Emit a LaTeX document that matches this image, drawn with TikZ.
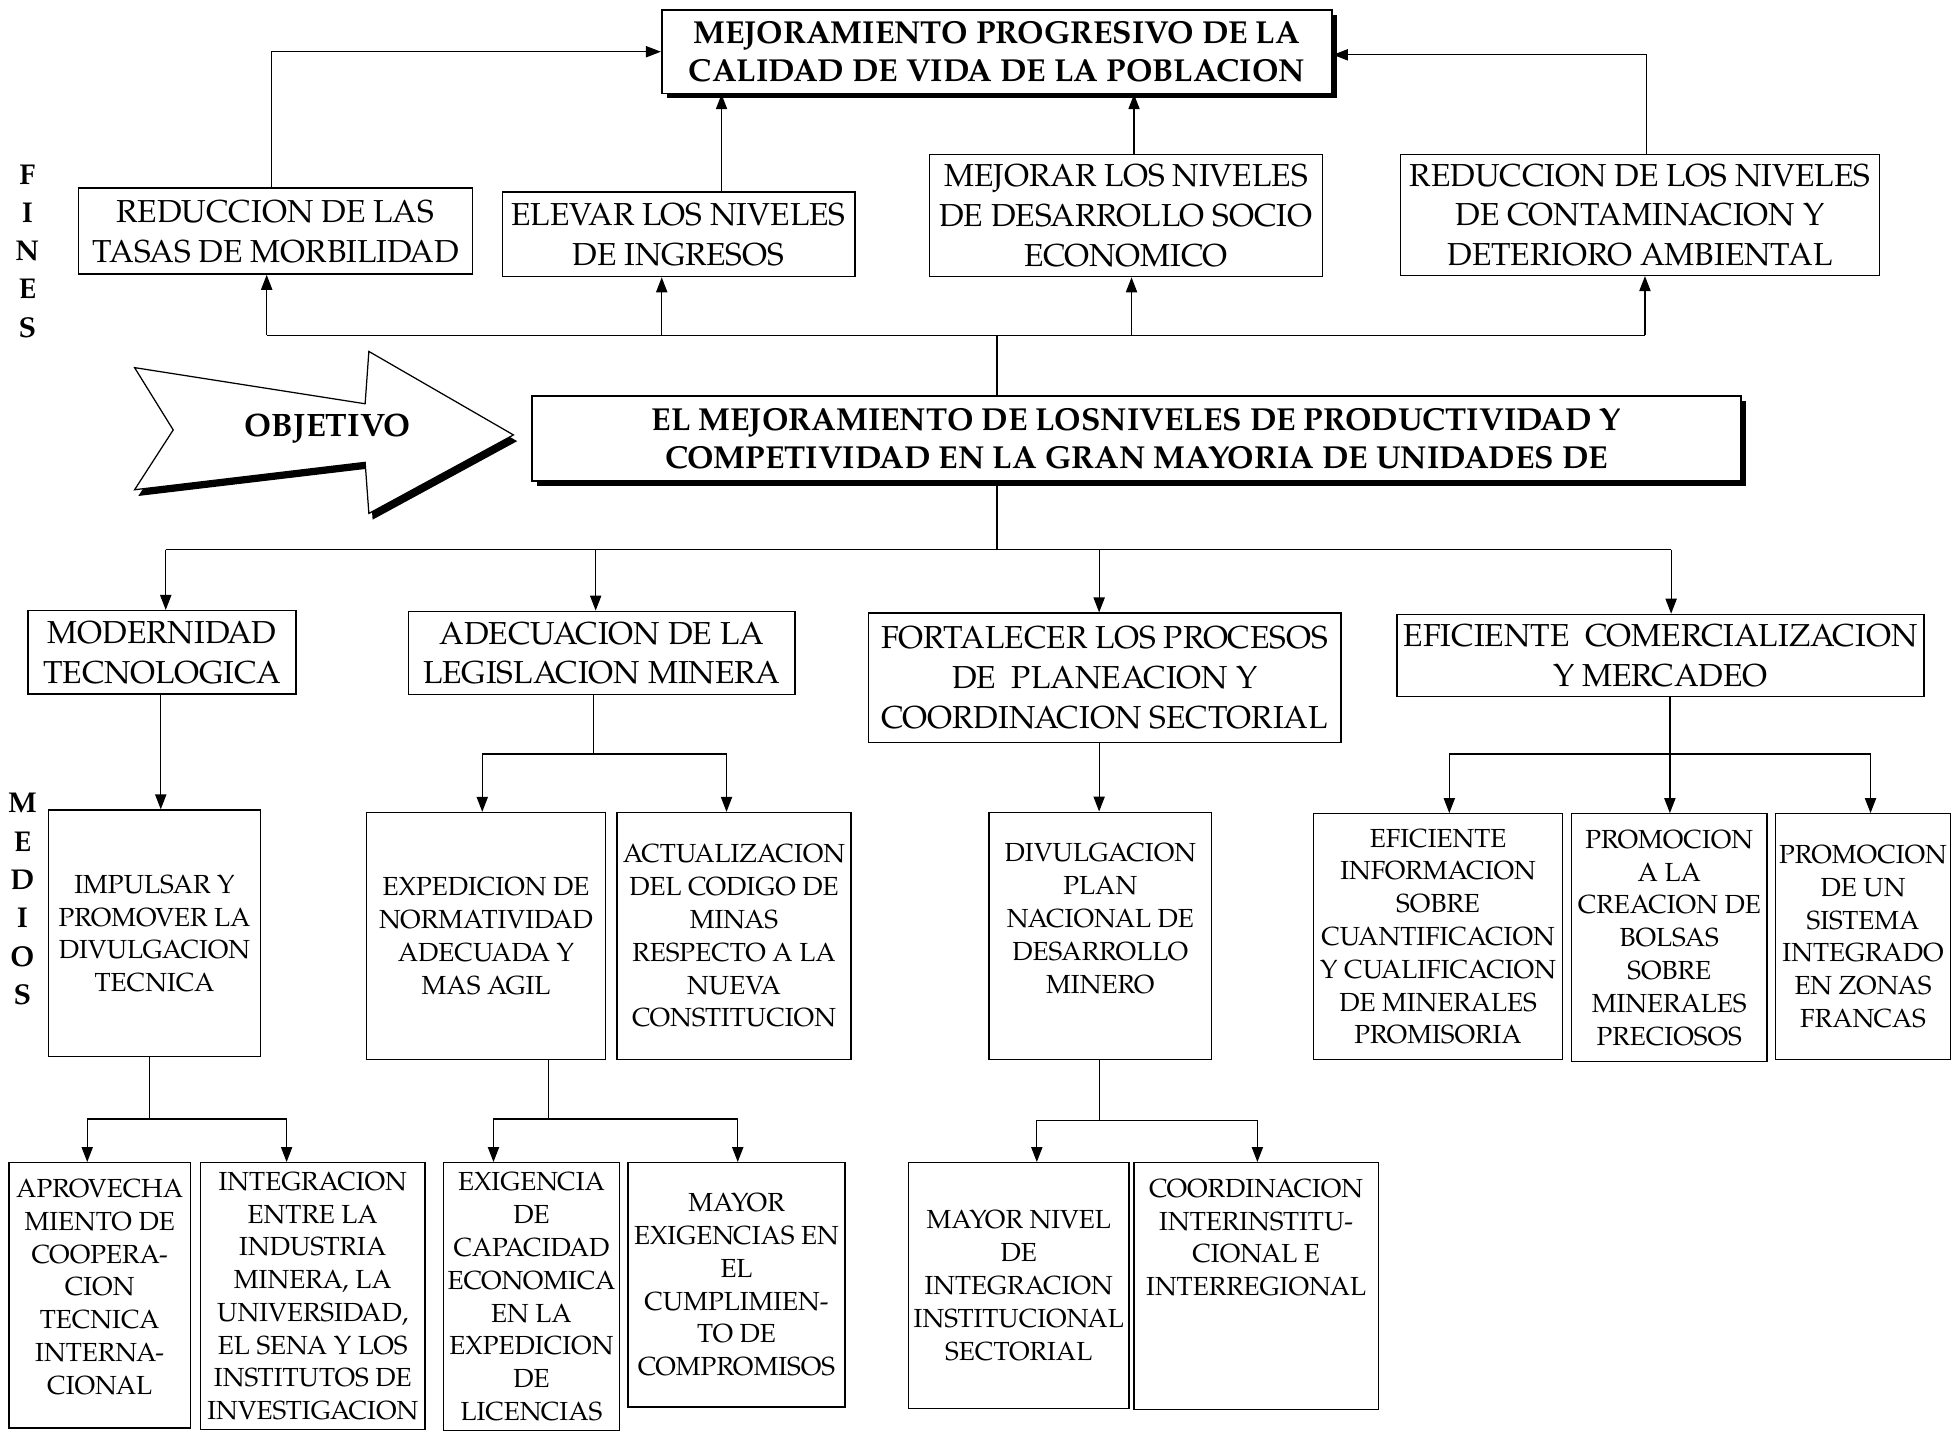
\documentclass[tikz,border=0pt]{standalone}
\usepackage{fontspec}
\setmainfont{TeX Gyre Pagella}
\usetikzlibrary{arrows.meta,shadows}

\tikzset{
  box/.style={draw, line width=1.1pt, fill=white, align=center, inner sep=1pt},
  bigtxt/.style={font=\fontsize{25.5}{32}\selectfont},
  smalltxt/.style={font=\fontsize{21}{26.3}\selectfont},
  headbox/.style={box, line width=1.3pt, font=\bfseries\fontsize{25.5}{31}\selectfont,
     drop shadow={shadow xshift=4pt, shadow yshift=-4pt, opacity=1, fill=black}},
  arr/.style={-{Triangle[length=12pt,width=9pt]}, line width=1pt},
  link/.style={line width=1pt},
  sidelabel/.style={align=center, font=\bfseries\fontsize{23}{30.7}\selectfont}
}

\begin{document}
\begin{tikzpicture}[x=1pt,y=-1pt]
\useasboundingbox (0,0) rectangle (1568,1148);
\fill[white] (0,0) rectangle (1568,1148);

% ---------- goal ----------
\node[headbox, minimum width=538pt, minimum height=67pt] (top) at (800,41.5)
  {MEJORAMIENTO PROGRESIVO DE LA\\CALIDAD DE VIDA DE LA POBLACION};

% ---------- ends (fines) ----------
\node[sidelabel] (fines) at (22,201.5) {F\\I\\N\\E\\S};
\node[box,bigtxt,minimum width=316pt,minimum height=69pt] (f1) at (221,185.5)
  {REDUCCION DE LAS\\TASAS DE MORBILIDAD};
\node[box,bigtxt,minimum width=283pt,minimum height=68pt] (f2) at (544.5,188)
  {ELEVAR LOS NIVELES\\DE INGRESOS};
\node[box,bigtxt,minimum width=315pt,minimum height=98pt] (f3) at (903.5,173)
  {MEJORAR LOS NIVELES\\DE DESARROLLO SOCIO\\ECONOMICO};
\node[box,bigtxt,minimum width=384pt,minimum height=97pt] (f4) at (1316,172.5)
  {REDUCCION DE LOS NIVELES\\DE CONTAMINACION Y\\DETERIORO AMBIENTAL};

% ---------- objective ----------
\node[headbox, minimum width=970pt, minimum height=68pt] (obj) at (912,352)
  {EL MEJORAMIENTO DE LOSNIVELES DE PRODUCTIVIDAD Y\\COMPETIVIDAD EN LA GRAN MAYORIA DE UNIDADES DE};

% block arrow with its shadow
\begin{scope}[shift={(3,5)}]
  \fill[black] (108,295) -- (293,324) -- (296,282) -- (412,349) -- (296,412)
     -- (293,371) -- (108,393) -- (139,345) -- cycle;
\end{scope}
\filldraw[fill=white, line width=1pt] (108,295) -- (293,324) -- (296,282) -- (412,349)
   -- (296,412) -- (293,371) -- (108,393) -- (139,345) -- cycle;
\node[font=\bfseries\fontsize{26}{26}\selectfont] (objlabel) at (263,344) {OBJETIVO};

% ---------- means (medios), first level ----------
\node[sidelabel] (medios) at (18,721.5) {M\\E\\D\\I\\O\\S};
\node[box,bigtxt,minimum width=215pt,minimum height=67pt] (m1) at (130,523.5)
  {MODERNIDAD\\TECNOLOGICA};
\node[box,bigtxt,minimum width=310pt,minimum height=67pt] (m2) at (483,524)
  {ADECUACION DE LA\\LEGISLACION MINERA};
\node[box,bigtxt,minimum width=379pt,minimum height=104pt] (m3) at (886.5,544)
  {FORTALECER LOS PROCESOS\\DE\ \ PLANEACION Y\\COORDINACION SECTORIAL};
\node[box,bigtxt,minimum width=423pt,minimum height=66pt] (m4) at (1332.5,526)
  {EFICIENTE\ \ COMERCIALIZACION\\Y MERCADEO};

% ---------- means, second level ----------
\node[box,smalltxt,minimum width=170.5pt,minimum height=198pt] (i1) at (124,749)
  {IMPULSAR Y\\PROMOVER LA\\DIVULGACION\\TECNICA};
\node[box,smalltxt,minimum width=191.5pt,minimum height=198pt] (e1) at (390,751)
  {EXPEDICION DE\\NORMATIVIDAD\\ADECUADA Y\\MAS AGIL};
\node[box,smalltxt,minimum width=188pt,minimum height=198pt] (e2) at (589,751)
  {ACTUALIZACION\\DEL CODIGO DE\\MINAS\\RESPECTO A LA\\NUEVA\\CONSTITUCION};
\node[box,smalltxt,minimum width=178.5pt,minimum height=198.5pt] (d1) at (883,751)
  {DIVULGACION\\PLAN\\NACIONAL DE\\DESARROLLO\\MINERO\\[2pt]~};
\node[box,smalltxt,minimum width=199.5pt,minimum height=197pt] (c1) at (1154,751.5)
  {EFICIENTE\\INFORMACION\\SOBRE\\CUANTIFICACION\\Y CUALIFICACION\\DE MINERALES\\PROMISORIA};
\node[box,smalltxt,minimum width=157pt,minimum height=199pt] (c2) at (1339.5,752.5)
  {PROMOCION\\A LA\\CREACION DE\\BOLSAS\\SOBRE\\MINERALES\\PRECIOSOS};
\node[box,smalltxt,minimum width=140.5pt,minimum height=197pt] (c3) at (1495,751.5)
  {PROMOCION\\DE UN\\SISTEMA\\INTEGRADO\\EN ZONAS\\FRANCAS};

% ---------- means, third level ----------
\node[box,smalltxt,minimum width=145.5pt,minimum height=213pt] (a1) at (80,1039.5)
  {APROVECHA\\MIENTO DE\\COOPERA-\\CION\\TECNICA\\INTERNA-\\CIONAL\\[-12pt]~};
\node[box,smalltxt,minimum width=180pt,minimum height=214pt] (a2) at (251,1040)
  {INTEGRACION\\ENTRE LA\\INDUSTRIA\\MINERA, LA\\UNIVERSIDAD,\\EL SENA Y LOS\\INSTITUTOS DE\\INVESTIGACION};
\node[box,smalltxt,minimum width=141pt,minimum height=215pt] (x1) at (426.5,1040.5)
  {EXIGENCIA\\DE\\CAPACIDAD\\ECONOMICA\\EN LA\\EXPEDICION\\DE\\LICENCIAS};
\node[box,smalltxt,minimum width=174pt,minimum height=196pt] (x2) at (591,1031)
  {MAYOR\\EXIGENCIAS EN\\EL\\CUMPLIMIEN-\\TO DE\\COMPROMISOS};
\node[box,smalltxt,minimum width=177pt,minimum height=197pt] (y1) at (817.5,1031.5)
  {MAYOR NIVEL\\DE\\INTEGRACION\\INSTITUCIONAL\\SECTORIAL};
\node[box,smalltxt,minimum width=196pt,minimum height=198pt] (y2) at (1008,1032)
  {COORDINACION\\INTERINSTITU-\\CIONAL E\\INTERREGIONAL\\[52pt]~};

% ---------- connectors: ends to goal ----------
\coordinate (g1) at (218,0);
\coordinate (g2) at (579,0);
\coordinate (g3) at (910,0);
\coordinate (g4) at (1321,44);
\draw[arr] (f1.north -| g1) |- (top.west);
\draw[arr] (f2.north -| g2) -- (top.south -| g2);
\draw[arr] (f3.north -| g3) -- (top.south -| g3);
\draw[arr] (f4.north -| g4) |- (top.east |- g4);

% objective up to the ends
\coordinate (b1) at (214,269);
\coordinate (b2) at (531,269);
\coordinate (b3) at (908,269);
\coordinate (b4) at (1320,269);
\coordinate (bo) at (800,269);
\draw[link] (b1) -- (b4);
\draw[link] (obj.north -| bo) -- (bo);
\draw[arr] (b1) -- (f1.south -| b1);
\draw[arr] (b2) -- (f2.south -| b2);
\draw[arr] (b3) -- (f3.south -| b3);
\draw[arr] (b4) -- (f4.south -| b4);

% objective down to the means
\coordinate (mo) at (800,441);
\coordinate (n1) at (133,441);
\coordinate (n2) at (478,441);
\coordinate (n3) at (882,441);
\coordinate (n4) at (1341,441);
\draw[link] (obj.south -| mo) -- (mo);
\draw[link] (n1) -- (n4);
\draw[arr] (n1) -- (m1.north -| n1);
\draw[arr] (n2) -- (m2.north -| n2);
\draw[arr] (n3) -- (m3.north -| n3);
\draw[arr] (n4) -- (m4.north -| n4);

% first level to second level
\coordinate (k1) at (129,0);
\draw[arr] (m1.south -| k1) -- (i1.north -| k1);
\coordinate (p0) at (476.5,605);
\coordinate (p1) at (387,605);
\coordinate (p2) at (583,605);
\draw[link] (m2.south -| p0) -- (p0);
\draw[link] (p1) -- (p2);
\draw[arr] (p1) -- (e1.north -| p1);
\draw[arr] (p2) -- (e2.north -| p2);
\coordinate (k3) at (882,0);
\draw[arr] (m3.south -| k3) -- (d1.north -| k3);
\coordinate (q0) at (1340,605);
\coordinate (q1) at (1163,605);
\coordinate (q3) at (1501,605);
\draw[link] (m4.south -| q0) -- (q0);
\draw[link] (q1) -- (q3);
\draw[arr] (q1) -- (c1.north -| q1);
\draw[arr] (q0) -- (c2.north -| q0);
\draw[arr] (q3) -- (c3.north -| q3);

% second level to third level
\coordinate (r0) at (120,898);
\coordinate (r1) at (70,898);
\coordinate (r2) at (230,898);
\draw[link] (i1.south -| r0) -- (r0);
\draw[link] (r1) -- (r2);
\draw[arr] (r1) -- (a1.north -| r1);
\draw[arr] (r2) -- (a2.north -| r2);
\coordinate (s0) at (440,898);
\coordinate (s1) at (396,898);
\coordinate (s2) at (592,898);
\draw[link] (e1.south -| s0) -- (s0);
\draw[link] (s1) -- (s2);
\draw[arr] (s1) -- (x1.north -| s1);
\draw[arr] (s2) -- (x2.north -| s2);
\coordinate (t0) at (882,899);
\coordinate (t1) at (832,899);
\coordinate (t2) at (1009,899);
\draw[link] (d1.south -| t0) -- (t0);
\draw[link] (t1) -- (t2);
\draw[arr] (t1) -- (y1.north -| t1);
\draw[arr] (t2) -- (y2.north -| t2);
\end{tikzpicture}
\end{document}
